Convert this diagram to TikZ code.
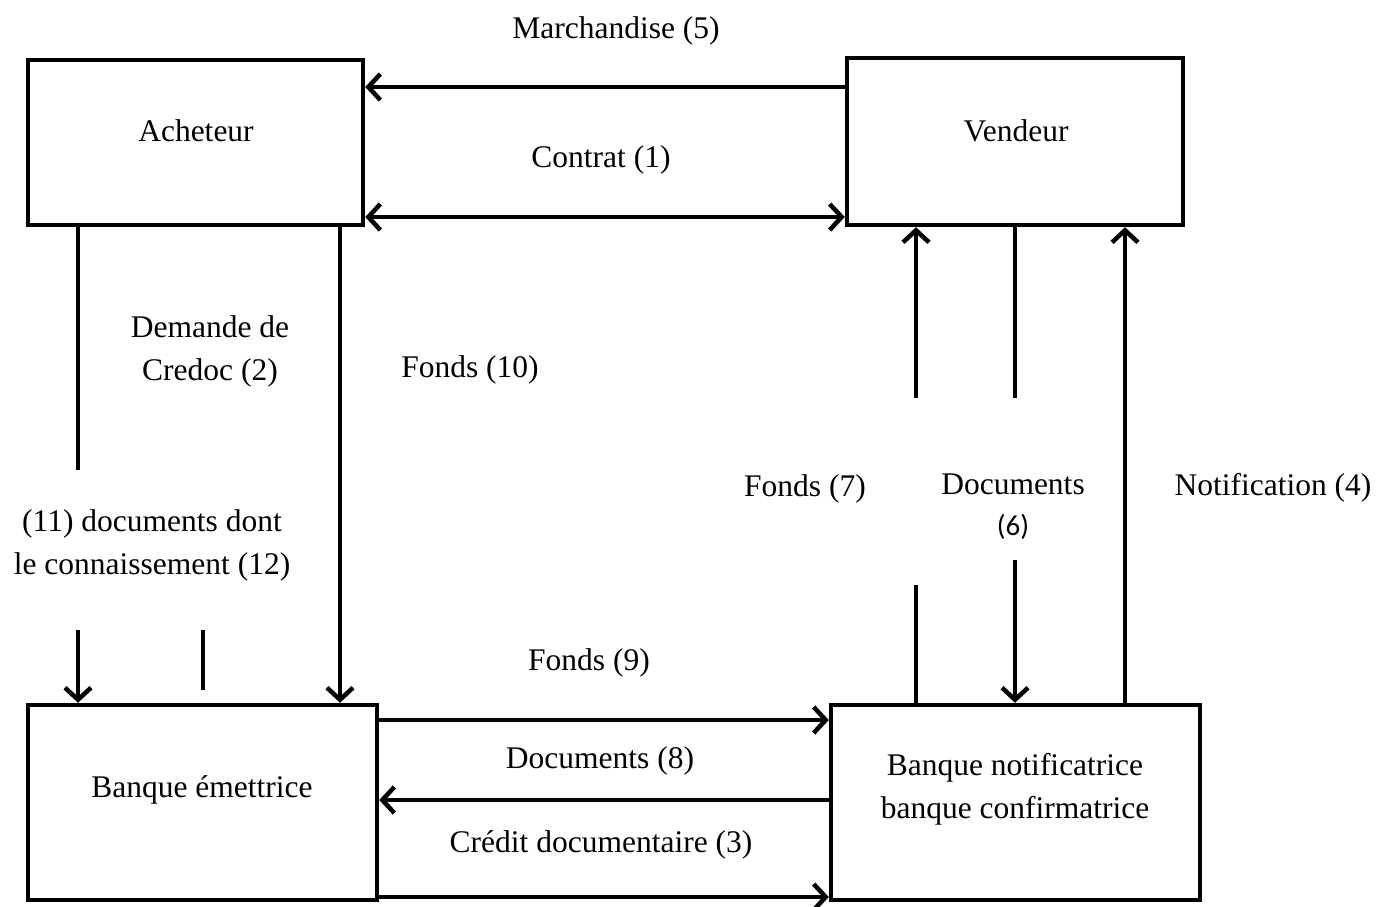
\documentclass[tikz,border=0pt]{standalone}
\usepackage{fontspec}
\setmainfont{Liberation Serif}
\newfontfamily\calfont{Carlito}
\usetikzlibrary{arrows.meta}
\begin{document}
\begin{tikzpicture}[x=1pt,y=-1pt,
  box/.style={draw,line width=4.5pt,rectangle,inner sep=0pt},
  conn/.style={line width=4.5pt},
  arr/.style={conn,-{Straight Barb[length=12pt,width=26pt]}},
  darr/.style={conn,{Straight Barb[length=12pt,width=26pt]}-{Straight Barb[length=12pt,width=26pt]}},
  lbl/.style={font=\fontsize{31.5}{43}\selectfont,align=center,inner sep=0pt,yshift=-3pt}]
\useasboundingbox (0,0) rectangle (1378,906);
% boxes
\node[box,minimum width=335pt,minimum height=165pt] (ach) at (195.5,142.5) {};
\node[box,minimum width=336pt,minimum height=167pt] (ven) at (1015,141.5) {};
\node[box,minimum width=349pt,minimum height=195pt] (bem) at (202.5,802.5) {};
\node[box,minimum width=369pt,minimum height=195pt] (bno) at (1015.5,802.5) {};
\node[lbl] (tach) at (196,128) {Acheteur};
\node[lbl] (tven) at (1016,128) {Vendeur};
\node[lbl] (tbem) at (202,787) {Banque émettrice};
\node[lbl] (tbno) at (1015,786) {Banque notificatrice\\banque confirmatrice};
% free ends
\coordinate (l1e) at (78,470);
\coordinate (l2s) at (78,630);
\coordinate (l3s) at (203,630);
\coordinate (l3e) at (203,690);
\coordinate (f7a) at (916,585);
\coordinate (f7b) at (916,398);
\coordinate (d6a) at (1015,398);
\coordinate (d6b) at (1015,560);
% connectors
\draw[arr] (ven.west |- 0,87) -- (ach.east |- 0,87);
\draw[darr] (ach.east |- 0,217) -- (ven.west |- 0,217);
\draw[conn] (ach.south -| l1e) -- (l1e);
\draw[arr] (l2s) -- (bem.north -| l2s);
\draw[conn] (l3s) -- (l3e);
\draw[arr] (ach.south -| 340,0) -- (bem.north -| 340,0);
\draw[conn] (f7a) -- (bno.north -| f7a);
\draw[arr] (f7b) -- (ven.south -| f7b);
\draw[conn] (ven.south -| d6a) -- (d6a);
\draw[arr] (d6b) -- (bno.north -| d6b);
\draw[arr] (bno.north -| 1125,0) -- (ven.south -| 1125,0);
\draw[arr] (bem.east |- 0,720) -- (bno.west |- 0,720);
\draw[arr] (bno.west |- 0,800) -- (bem.east |- 0,800);
\draw[arr] (bem.east |- 0,897) -- (bno.west |- 0,897);
% labels
\node[lbl] (m5) at (616,28) {Marchandise (5)};
\node[lbl] (c1) at (601,157) {Contrat (1)};
\node[lbl] (d2) at (210,348) {Demande de\\Credoc (2)};
\node[lbl] (f10) at (470,367) {Fonds (10)};
\node[lbl] (d11) at (152,542) {(11) documents dont\\le connaissement (12)};
\node[lbl] (f7) at (805,486) {Fonds (7)};
\node[lbl] (d6) at (1013,481) {Documents};
\node[lbl,font=\calfont\fontsize{29}{35}\selectfont] (d6n) at (1013,524) {(6)};
\node[lbl] (n4) at (1273,485) {Notification (4)};
\node[lbl] (f9) at (589,660) {Fonds (9)};
\node[lbl] (d8) at (600,758) {Documents (8)};
\node[lbl] (c3) at (601,842) {Crédit documentaire (3)};
\end{tikzpicture}
\end{document}
